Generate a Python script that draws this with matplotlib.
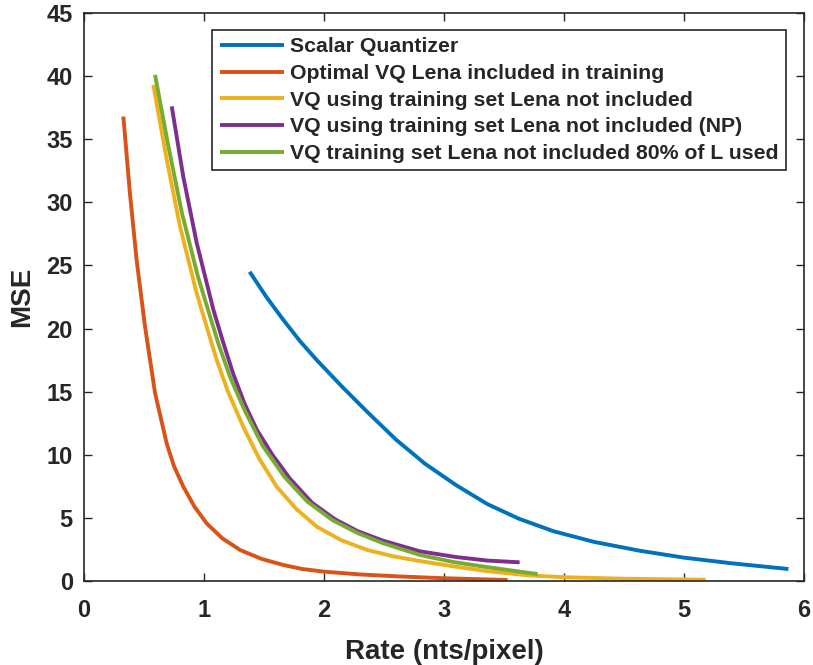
import matplotlib
matplotlib.use("Agg")
import matplotlib.pyplot as plt

# values
sq_rate = [1.38, 1.52, 1.66, 1.80, 1.94, 2.15, 2.36, 2.6, 2.84, 3.1, 3.36, 3.62, 3.91, 4.25, 4.63, 5.0, 5.4, 5.87]
sq_mse = [24.5, 22.5, 20.7, 19.0, 17.5, 15.4, 13.4, 11.2, 9.3, 7.6, 6.1, 4.95, 3.95, 3.1, 2.4, 1.85, 1.4, 0.95]

opt_rate = [0.328, 0.383, 0.439, 0.508, 0.592, 0.689, 0.75, 0.828, 0.92, 1.022, 1.15, 1.30, 1.48, 1.66,
            1.82, 2.0, 2.3, 2.63, 3.0, 3.53]
opt_mse = [36.8, 30.7, 25.4, 20.2, 14.9, 10.9, 9.1, 7.47, 5.9, 4.57, 3.4, 2.46, 1.75, 1.27,
           0.95, 0.74, 0.52, 0.36, 0.22, 0.08]

vq_rate = [0.578, 0.689, 0.80, 0.939, 1.106, 1.2, 1.328, 1.46, 1.606, 1.77, 1.94, 2.14, 2.36, 2.58,
           2.8, 3.05, 3.36, 3.7, 4.0, 4.5, 5.18]
vq_mse = [39.3, 33.4, 28.1, 22.8, 17.5, 15.0, 12.2, 9.7, 7.47, 5.7, 4.3, 3.25, 2.46, 1.95,
          1.58, 1.2, 0.78, 0.45, 0.3, 0.18, 0.1]

np_rate = [0.731, 0.828, 0.939, 1.078, 1.16, 1.244, 1.34, 1.439, 1.57, 1.717, 1.9, 2.09, 2.28, 2.49,
           2.8, 3.1, 3.36, 3.63]
np_mse = [37.6, 32.0, 26.8, 21.5, 18.9, 16.4, 14.0, 12.0, 10.0, 8.1, 6.2, 4.9, 3.95, 3.2,
          2.35, 1.9, 1.62, 1.48]

l80_rate = [0.592, 0.70, 0.815, 0.95, 1.12, 1.22, 1.34, 1.49, 1.67, 1.86, 2.07, 2.28, 2.49, 2.8,
            3.08, 3.36, 3.78]
l80_mse = [40.1, 34.6, 29.2, 24.1, 18.8, 16.1, 13.5, 10.7, 8.26, 6.3, 4.83, 3.8, 3.0, 2.06,
           1.5, 1.1, 0.55]

labels = ["Scalar Quantizer",
          "Optimal VQ Lena included in training",
          "VQ using training set Lena not included",
          "VQ using training set Lena not included (NP)",
          "VQ training set Lena not included 80% of L used"]
colors = ["#0072BD", "#D95319", "#EDB120", "#7E2F8E", "#77AC30"]

plt.rcParams['font.family'] = ['Liberation Sans', 'DejaVu Sans']
plt.rcParams['font.weight'] = 'bold'

fig = plt.figure(figsize=(8.13, 6.65), dpi=100)
ax = fig.add_axes([0.1033, 0.1263, 0.8857, 0.8542])

series = [(sq_rate, sq_mse), (opt_rate, opt_mse), (vq_rate, vq_mse),
          (np_rate, np_mse), (l80_rate, l80_mse)]
for (r, m), lab, c in zip(series, labels, colors):
    ax.plot(r, m, color=c, linewidth=2.8, label=lab, solid_capstyle='butt',
            solid_joinstyle='round')

ax.set_xlim(0, 6)
ax.set_ylim(0, 45)
ax.set_xticks(range(0, 7))
ax.set_yticks(range(0, 46, 5))
ax.tick_params(direction='in', top=True, right=True, length=6, width=1,
               labelsize=17, colors='#262626')
ax.tick_params(axis='x', pad=13)
ax.tick_params(axis='y', pad=8)
for s in ax.spines.values():
    s.set_color('#262626')
    s.set_linewidth(1.2)

ax.set_xlabel("Rate (nts/pixel)", fontsize=20, fontweight='bold', color='#262626', labelpad=12)
ax.set_ylabel("MSE", fontsize=20, fontweight='bold', color='#262626', labelpad=8)

leg = ax.legend(loc='upper right', bbox_to_anchor=(0.975, 0.97), fontsize=15.3,
                handlelength=3.0, labelspacing=0.36, borderpad=0.35,
                handletextpad=0.3, fancybox=False, framealpha=1,
                edgecolor='#262626', borderaxespad=0)
leg.get_frame().set_linewidth(1.2)
for t in leg.get_texts():
    t.set_fontweight('bold')
    t.set_color('#262626')

fig.savefig("out.png", dpi=100)
